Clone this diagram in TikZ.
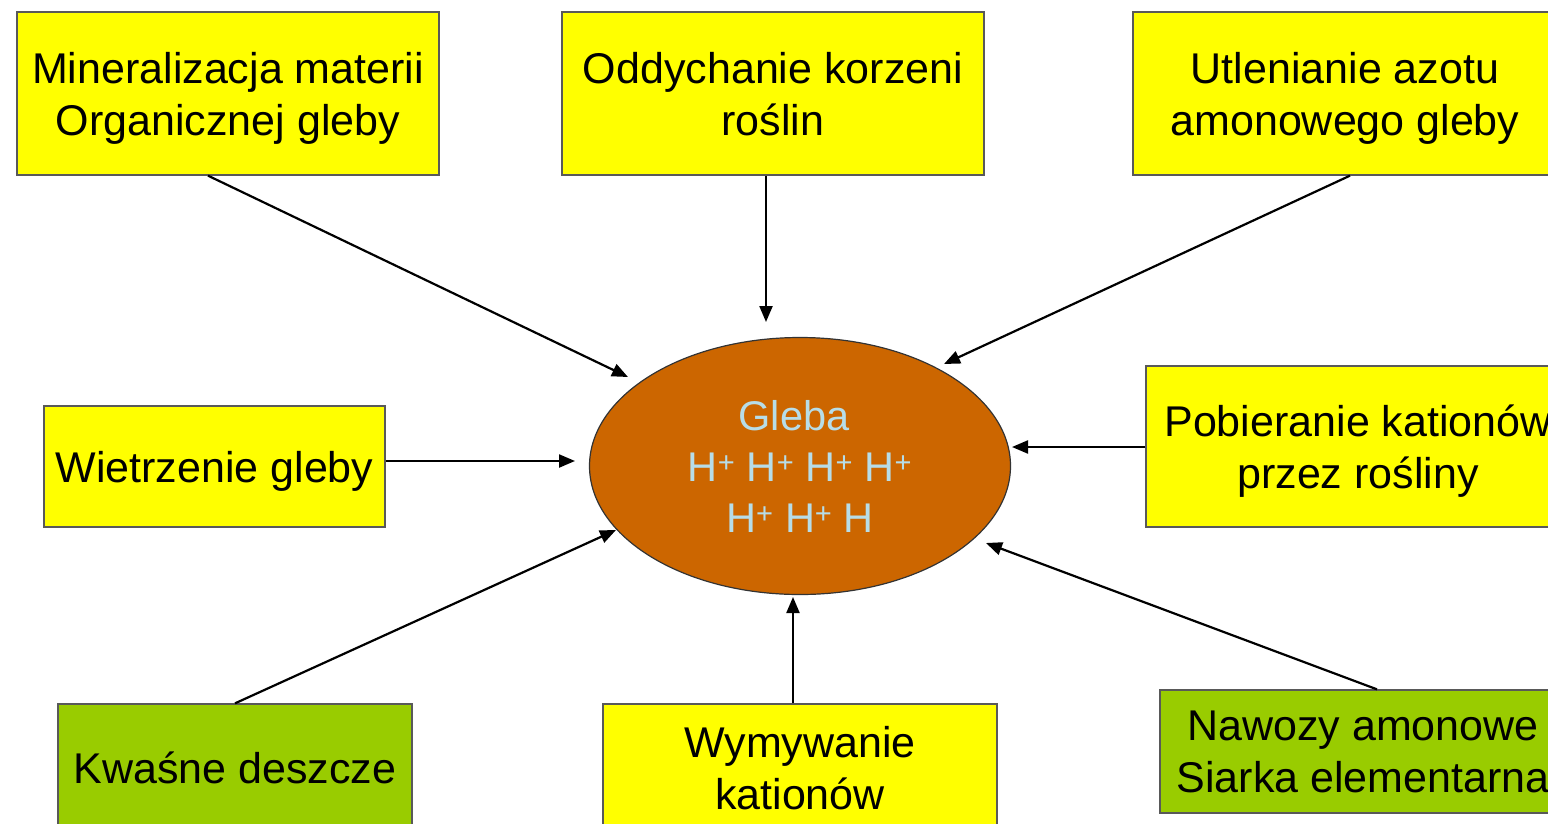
\documentclass[tikz,border=0pt]{standalone}
\usepackage{fontspec}
\setmainfont{Liberation Sans}
\usetikzlibrary{arrows.meta,shapes.geometric}

\definecolor{boxyellow}{HTML}{FFFF00}
\definecolor{boxgreen}{HTML}{99CC00}
\definecolor{soilbrown}{HTML}{CC6600}
\definecolor{ionblue}{HTML}{B7DDE8}

\begin{document}
\begin{tikzpicture}[x=1pt,y=-1pt,-{Triangle[length=16pt,width=13pt]},line width=2.2pt,
  box node/.style={rectangle,draw=black!65,line width=1.3pt,fill=boxyellow,inner sep=0pt,
    align=center,text depth=0pt,font=\fontsize{43}{52}\selectfont},
  acid node/.style={box node,fill=boxgreen},
  soil node/.style={ellipse,draw=black!80,line width=1.2pt,fill=soilbrown,inner sep=0pt,
    minimum width=421pt,minimum height=257pt,align=center,text=ionblue,
    font=\fontsize{41.5}{51}\selectfont}]

  \useasboundingbox (0,0) rectangle (1548,823);

  \node[soil node] (gleba) at (800,466) {\hspace*{-12pt}Gleba\\H\textsuperscript{+} H\textsuperscript{+} H\textsuperscript{+} H\textsuperscript{+}\\H\textsuperscript{+} H\textsuperscript{+} H};

  \node[box node,minimum width=422pt,minimum height=163pt] (miner) at (228,93.5) {Mineralizacja materii\\Organicznej gleby};
  \node[box node,minimum width=422pt,minimum height=163pt] (oddych) at (773,93.5) {Oddychanie korzeni\\roślin};
  \node[box node,minimum width=424pt,minimum height=163pt] (utlen) at (1345,93.5) {Utlenianie azotu\\amonowego gleby};
  \node[box node,minimum width=341pt,minimum height=121pt] (wietrz) at (214.5,466.5) {Wietrzenie gleby};
  \node[box node,minimum width=424pt,minimum height=161pt] (pobier) at (1358,446.5) {Pobieranie kationów\\przez rośliny};
  \node[acid node,minimum width=354pt,minimum height=128pt] (kwasne) at (235,768) {Kwaśne deszcze};
  \node[box node,minimum width=394pt,minimum height=128pt] (wymyw) at (800,768) {Wymywanie\\kationów};
  \node[acid node,minimum width=406pt,minimum height=123pt] (nawozy) at (1363,751.5) {Nawozy amonowe\\Siarka elementarna};

  % arrow ends near the soil
  \coordinate (e1) at (628,377);
  \coordinate (e2) at (766,322);
  \coordinate (e3) at (944,364);
  \coordinate (e4) at (575,461);
  \coordinate (e5) at (1012,447);
  \coordinate (e6) at (616,530);
  \coordinate (e7) at (793,597);
  \coordinate (e8) at (986,543);

  \draw ([xshift=-20pt]miner.south) -- (e1);
  \draw ([xshift=-7pt]oddych.south) -- (e2);
  \draw ([xshift=5pt]utlen.south) -- (e3);
  \draw (wietrz.east |- e4) -- (e4);
  \draw (pobier.west |- e5) -- (e5);
  \draw (kwasne.north) -- (e6);
  \draw ([xshift=-7pt]wymyw.north) -- (e7);
  \draw ([xshift=14pt]nawozy.north) -- (e8);

\end{tikzpicture}
\end{document}
